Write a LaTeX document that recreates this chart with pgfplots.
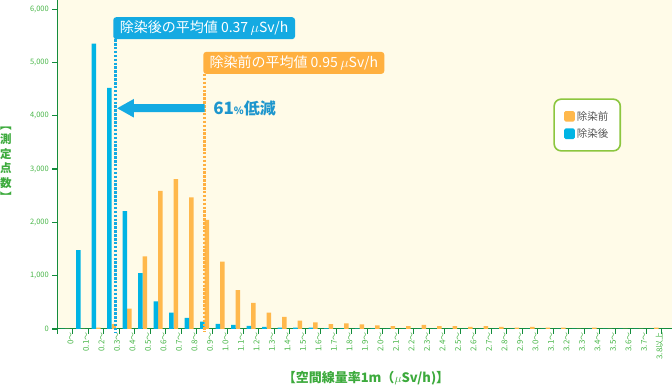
\documentclass[border=0pt]{standalone}
\usepackage{fontspec}
\setmainfont{Noto Sans CJK JP}
\usepackage{pgfplots}
\pgfplotsset{compat=1.18}
\definecolor{bgc}{RGB}{255,251,232}
\definecolor{cblue}{RGB}{0,180,228}
\definecolor{corange}{RGB}{255,184,76}
\definecolor{tgreen}{RGB}{72,182,72}
\definecolor{lgreen2}{RGB}{60,170,60}
\definecolor{agreen}{RGB}{20,140,60}
\definecolor{lgreen}{RGB}{140,198,63}
\definecolor{ablue}{RGB}{20,170,226}
\definecolor{tblue}{RGB}{30,150,205}
\definecolor{aorange}{RGB}{255,176,64}
\definecolor{legtext}{RGB}{85,85,85}

\pgfplotstableread{
x   blue  orange
0.5 0     0
1.5 1480  0
2.5 5350  25
3.5 4520  90
4.5 2210  380
5.5 1050  1360
6.5 520   2590
7.5 305   2810
8.5 210   2470
9.5 140   2045
10.5 94   1265
11.5 75   730
12.5 60   488
13.5 40   306
14.5 28   225
15.5 27   156
16.5 28   122
17.5 10   92
18.5 8    106
19.5 5    88
20.5 5    69
21.5 3    56
22.5 3    56
23.5 3    75
24.5 2    56
25.5 2    56
26.5 1    38
27.5 1    56
28.5 1    38
29.5 0    25
30.5 0    38
31.5 0    25
32.5 0    25
33.5 0    0
34.5 0    25
35.5 0    0
36.5 0    0
37.5 0    0
38.5 0    25
}\datatable

\begin{document}
\begin{tikzpicture}
\begin{axis}[
  at={(57.3pt,61pt)}, anchor=south west,
  scale only axis, width=614.7pt, height=329pt,
  xmin=0, xmax=39.66, ymin=0, ymax=6170,
  clip=false,
  axis background/.style={fill=bgc},
  axis x line*=bottom, axis y line*=left,
  x axis line style={draw=agreen, line width=1pt},
  y axis line style={draw=agreen, line width=1pt},
  tick align=outside,
  major tick length=0pt,
  minor tick length=5pt,
  minor tick style={draw=agreen, line width=1.1pt},
  major tick style={draw=none},
  ytick={0,1000,2000,3000,4000,5000,6000},
  minor ytick={0,1000,2000,3000,4000,5000,6000},
  scaled y ticks=false,
  yticklabel style={font=\fontsize{7.5}{8}\selectfont, text=tgreen, xshift=-5pt,
    /pgf/number format/1000 sep={,}, /pgf/number format/assume math mode=true},
  xtick={0.5,1.5,...,38.5},
  minor xtick={0,1,...,39},
  xticklabels={0〜,0.1〜,0.2〜,0.3〜,0.4〜,0.5〜,0.6〜,0.7〜,0.8〜,0.9〜,1.0〜,1.1〜,1.2〜,1.3〜,1.4〜,1.5〜,1.6〜,1.7〜,1.8〜,1.9〜,2.0〜,2.1〜,2.2〜,2.3〜,2.4〜,2.5〜,2.6〜,2.7〜,2.8〜,2.9〜,3.0〜,3.1〜,3.2〜,3.3〜,3.4〜,3.5〜,3.6〜,3.7〜,3.8以上},
  xticklabel style={rotate=90, anchor=east, font=\fontsize{8}{9}\selectfont, text=tgreen, yshift=-5.5pt},
  legend style={at={(0.807,0.701)}, anchor=north west, draw=lgreen, line width=1.6pt,
    rounded corners=7pt, fill=white, inner xsep=10pt, inner ysep=10pt,
    font=\fontsize{10.5}{12}\selectfont, text=legtext, row sep=3pt, cells={anchor=west}},
  legend image code/.code={\fill[#1, rounded corners=1.5pt] (0pt,-5.3pt) rectangle (10.6pt,5.3pt);},
]
\addplot[ybar, bar width=4.5pt, bar shift=2.25pt, fill=corange, draw=none] table[x=x, y=orange] {\datatable};
\addlegendentry{除染前}
\addplot[ybar, bar width=4.5pt, bar shift=-2.25pt, fill=cblue, draw=none] table[x=x, y=blue] {\datatable};
\addlegendentry{除染後}

% mean lines
\draw[ablue, line width=3pt, dash pattern=on 2.5pt off 1.4pt] (axis cs:3.73,5435) -- (axis cs:3.73,-60);
\draw[aorange, line width=3pt, dash pattern=on 2.5pt off 1.4pt] (axis cs:9.52,4784) -- (axis cs:9.52,-60);
% boxes
\fill[ablue, rounded corners=3pt] (axis cs:3.61,5435) rectangle (axis cs:15.34,5848);
\node[text=white, font=\fontsize{14}{15}\selectfont] at (axis cs:9.475,5641) {除染後の平均値 0.37\,$\mu$Sv/h};
\fill[aorange, rounded corners=3pt] (axis cs:9.42,4784) rectangle (axis cs:21.10,5197);
\node[text=white, font=\fontsize{14}{15}\selectfont] at (axis cs:15.26,4990) {除染前の平均値 0.95\,$\mu$Sv/h};
% arrow
\fill[ablue] (axis cs:9.5,4140) ++(0,4pt) -- ++(-70.7pt,0) -- ++(0,5.3pt) -- ++(-16.6pt,-9.3pt) -- ++(16.6pt,-9.3pt) -- ++(0,5.3pt) -- ++(70.7pt,0) -- cycle;
\node[anchor=west, text=tblue, font=\bfseries, inner sep=0pt] at (axis cs:10.05,4140) {{\fontsize{17}{17}\selectfont 61}{\fontsize{10}{10}\selectfont\%}{\fontsize{16}{16}\selectfont 低減}};
\end{axis}
\node[text=lgreen2, font=\bfseries\fontsize{11.5}{14.5}\selectfont, align=center, inner sep=0pt] at (6pt,226pt) {︻\\測\\定\\点\\数\\︼};
\node[text=lgreen2, font=\bfseries\fontsize{13}{14}\selectfont] at (366pt,12pt) {【空間線量率1m（$\mu$Sv/h)】};
\pgfresetboundingbox
\path[use as bounding box] (0,0) rectangle (672pt,390pt);
\end{tikzpicture}
\end{document}
